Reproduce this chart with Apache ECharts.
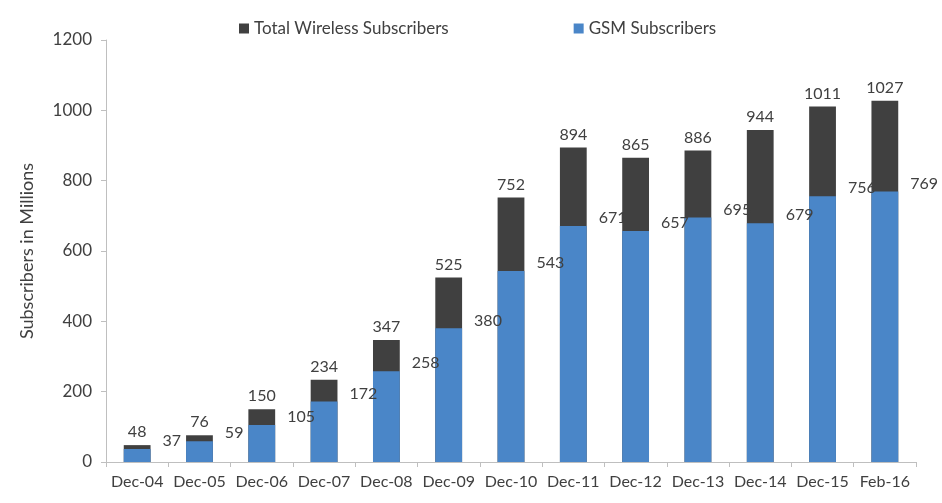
<!DOCTYPE html>
<html>
<head>
<meta charset="utf-8">
<script src="https://cdn.jsdelivr.net/npm/echarts@6/dist/echarts.min.js"></script>
<style>
  html, body { margin: 0; padding: 0; background: #fff; }
  #bar_diagram { width: 942px; height: 503px; }
</style>
</head>
<body>
<div id="bar_diagram"></div>
<script>
var categories = ["Dec-04", "Dec-05", "Dec-06", "Dec-07", "Dec-08", "Dec-09", "Dec-10",
                  "Dec-11", "Dec-12", "Dec-13", "Dec-14", "Dec-15", "Feb-16"];
var total_wireless = [48, 76, 150, 234, 347, 525, 752, 894, 865, 886, 944, 1011, 1027];
var gsm = [37, 59, 105, 172, 258, 380, 543, 671, 657, 695, 679, 756, 769];
var y_ticks = [0, 200, 400, 600, 800, 1000, 1200];

var font = "Lato, 'Open Sans', sans-serif";
var barChart = echarts.init(document.getElementById("bar_diagram"));

var option = {
  animation: false,
  textStyle: { fontFamily: font },
  legend: {
    top: 15,
    left: 234,
    itemWidth: 10,
    itemHeight: 10,
    itemGap: 125,
    icon: "rect",
    textStyle: { color: "#404040", fontSize: 17, fontFamily: font },
    data: ["Total Wireless Subscribers", "GSM Subscribers"]
  },
  grid: { left: 106, right: 26, top: 40, bottom: 41 },
  xAxis: {
    type: "category",
    data: categories,
    axisLine: { lineStyle: { color: "#bfbfbf" } },
    axisTick: { show: true, length: 5, lineStyle: { color: "#bfbfbf" } },
    axisLabel: { color: "#404040", fontSize: 16, margin: 12, interval: 0 }
  },
  yAxis: {
    type: "value",
    min: y_ticks[0],
    max: y_ticks[y_ticks.length - 1],
    interval: 200,
    name: "Subscribers in Millions",
    nameLocation: "middle",
    nameGap: 70,
    nameTextStyle: { color: "#404040", fontSize: 18 },
    axisLine: { show: true, lineStyle: { color: "#bfbfbf" } },
    axisTick: { show: true, length: 5, lineStyle: { color: "#bfbfbf" } },
    axisLabel: {
      color: "#404040", fontSize: 17, margin: 14,
      formatter: function (v) { return String(v); }
    },
    splitLine: { show: false }
  },
  series: [
    {
      name: "Total Wireless Subscribers",
      type: "bar",
      barWidth: "43%",
      barGap: "-100%",
      itemStyle: { color: "#404040" },
      label: {
        show: true,
        position: "top",
        distance: 5,
        color: "#404040",
        fontSize: 16
      },
      data: total_wireless
    },
    {
      name: "GSM Subscribers",
      type: "bar",
      barWidth: "43%",
      itemStyle: { color: "#4a86c8" },
      label: {
        show: true,
        position: ["100%", 0],
        offset: [12, -8],
        align: "left",
        verticalAlign: "middle",
        color: "#404040",
        fontSize: 16
      },
      data: gsm
    }
  ]
};
barChart.setOption(option);
</script>
</body>
</html>
